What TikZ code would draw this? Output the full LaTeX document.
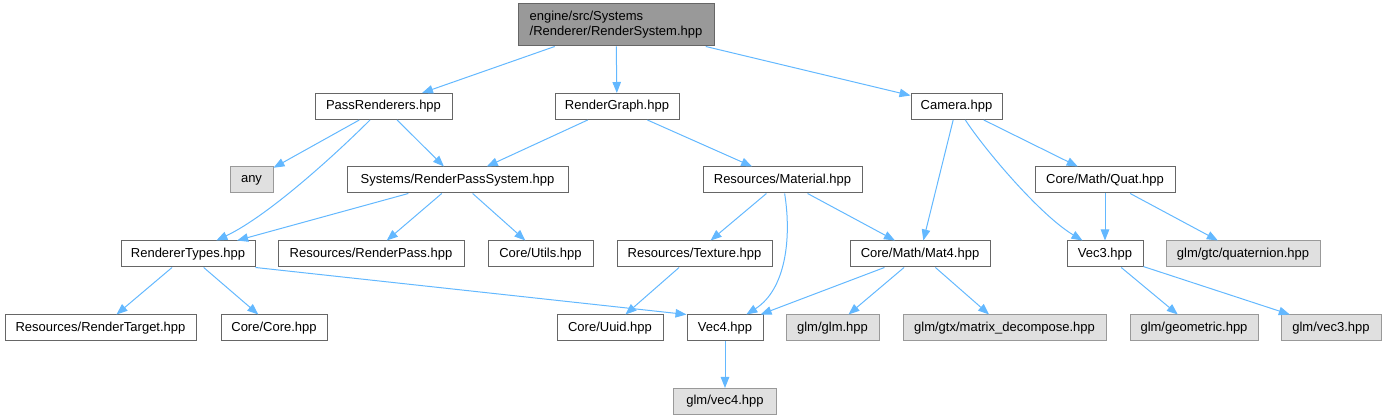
\documentclass[tikz,border=0pt]{standalone}
\usepackage{fontspec}
\setmainfont{Liberation Sans}
\usepackage{xcolor}
\usepackage{tikz}
\usetikzlibrary{arrows.meta}
\definecolor{inclblue}{HTML}{63B8FF}
\definecolor{hdrline}{HTML}{666666}
\definecolor{extline}{HTML}{999999}
\definecolor{extfill}{HTML}{E0E0E0}
\definecolor{rootfill}{HTML}{999999}
\tikzset{
  hdr/.style={draw=hdrline,fill=white,line width=1pt,minimum height=26pt,
    inner sep=0pt,font=\fontsize{13}{15}\selectfont},
  exthdr/.style={hdr,draw=extline,fill=extfill},
  roothdr/.style={hdr,fill=rootfill,minimum height=42pt,align=left},
  incl/.style={draw=inclblue,line width=1pt,-{Triangle[length=11pt,width=8.5pt]}}
}

\begin{document}
\begin{tikzpicture}[x=1pt,y=1pt]
  \useasboundingbox (0,0) rectangle (1387,420);
  % top
  \node[roothdr,minimum width=196] (rsys) at (616,395)
    {engine/src/Systems\\/Renderer/RenderSystem.hpp};
  % first level
  \node[hdr,minimum width=137] (passr) at (383.5,313.5) {PassRenderers.hpp};
  \node[hdr,minimum width=124] (rgraph) at (617,313.5) {RenderGraph.hpp};
  \node[hdr,minimum width=91] (camera) at (956.5,313.5) {Camera.hpp};
  % second level
  \node[exthdr,minimum width=43] (any) at (251.5,240) {any};
  \node[hdr,minimum width=221] (rpsys) at (457.5,240) {Systems/RenderPassSystem.hpp};
  \node[hdr,minimum width=159] (material) at (782.5,240) {Resources/Material.hpp};
  \node[hdr,minimum width=140] (quat) at (1105,240) {Core/Math/Quat.hpp};
  % third level
  \node[hdr,minimum width=134] (rtypes) at (188,166) {RendererTypes.hpp};
  \node[hdr,minimum width=186] (rpass) at (371,166) {Resources/RenderPass.hpp};
  \node[hdr,minimum width=105] (utils) at (540.5,166) {Core/Utils.hpp};
  \node[hdr,minimum width=155] (texture) at (694.5,166) {Resources/Texture.hpp};
  \node[hdr,minimum width=140] (mat4) at (920,166) {Core/Math/Mat4.hpp};
  \node[hdr,minimum width=76] (vec3) at (1105,166) {Vec3.hpp};
  \node[exthdr,minimum width=154] (gquat) at (1243,166) {glm/gtc/quaternion.hpp};
  % fourth level
  \node[hdr,minimum width=191] (rtarget) at (100.5,92) {Resources/RenderTarget.hpp};
  \node[hdr,minimum width=106] (core) at (274,92) {Core/Core.hpp};
  \node[hdr,minimum width=106] (uuid) at (610,92) {Core/Uuid.hpp};
  \node[hdr,minimum width=76] (vec4) at (725,92) {Vec4.hpp};
  \node[exthdr,minimum width=93] (gglm) at (832.5,92) {glm/glm.hpp};
  \node[exthdr,minimum width=203] (gdecomp) at (1004.5,92) {glm/gtx/matrix\_decompose.hpp};
  \node[exthdr,minimum width=128] (ggeom) at (1194,92) {glm/geometric.hpp};
  \node[exthdr,minimum width=100] (gvec3) at (1331,92) {glm/vec3.hpp};
  % bottom
  \node[exthdr,minimum width=103] (gvec4) at (725,18.5) {glm/vec4.hpp};

  % includes
  \draw[incl] (rsys) -- (passr);
  \draw[incl] (rsys) -- (rgraph);
  \draw[incl] (rsys) -- (camera);
  \draw[incl] (passr) -- (any);
  \draw[incl] (passr) -- (rpsys);
  \draw[incl] (passr) .. controls (340,270) and (270,205) .. (rtypes);
  \draw[incl] (rgraph) -- (rpsys);
  \draw[incl] (rgraph) -- (material);
  \draw[incl] (camera) -- (mat4);
  \draw[incl] (camera) .. controls (985,270) and (1040,205) .. (vec3);
  \draw[incl] (camera) -- (quat);
  \draw[incl] (rpsys) -- (rtypes);
  \draw[incl] (rpsys) -- (rpass);
  \draw[incl] (rpsys) -- (utils);
  \draw[incl] (material) -- (texture);
  \draw[incl] (material) .. controls (792,180) and (785,130) .. (vec4);
  \draw[incl] (material) -- (mat4);
  \draw[incl] (quat) -- (vec3);
  \draw[incl] (quat) -- (gquat);
  \draw[incl] (rtypes) -- (rtarget);
  \draw[incl] (rtypes) -- (core);
  \draw[incl] (rtypes.south east) -- (vec4.north west);
  \draw[incl] (texture) -- (uuid);
  \draw[incl] (mat4) -- (vec4);
  \draw[incl] (mat4) -- (gglm);
  \draw[incl] (mat4) -- (gdecomp);
  \draw[incl] (vec3) -- (ggeom);
  \draw[incl] (vec3) -- (gvec3);
  \draw[incl] (vec4) -- (gvec4);
\end{tikzpicture}
\end{document}
